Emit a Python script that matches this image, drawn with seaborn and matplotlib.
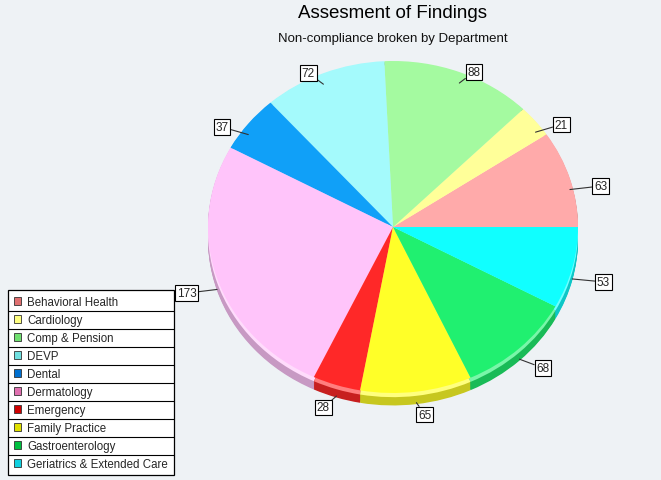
import numpy as np
import matplotlib
matplotlib.use("Agg")
import matplotlib.pyplot as plt
import matplotlib.colors as mcolors
from matplotlib.patches import Patch
from matplotlib.lines import Line2D
import seaborn as sns

# data
departments = ['Behavioral Health', 'Cardiology', 'Comp & Pension', 'DEVP', 'Dental',
               'Dermatology', 'Emergency', 'Family Practice', 'Gastroenterology',
               'Geriatrics & Extended Care']
findings = [63, 21, 88, 72, 37, 173, 28, 65, 68, 53]
slice_colors = ['#FFAAAA', '#FFFF99', '#A4FAA0', '#A4FAFC', '#10A0F8',
                '#FFC4FA', '#FF2828', '#FFFF28', '#20F070', '#10FFFF']
legend_colors = ['#E07070', '#FFFF80', '#70E070', '#70E0E0', '#0070D0',
                 '#E070B0', '#D00000', '#E0E000', '#00C040', '#10D0E0']

sns.set_theme(style="white")
plt.rcParams['font.family'] = ['Liberation Sans', 'DejaVu Sans']

W, H = 661, 481
fig = plt.figure(figsize=(W / 100, H / 100), dpi=100)
bg = '#eef2f5'
fig.patch.set_facecolor(bg)

# pie axes: ellipse centre (393, 228), radii 185 x 166 pixels
cx, cy, rx, ry = 393, 228, 185, 166
ax = fig.add_axes([(cx - rx) / W, 1 - (cy + ry) / H, 2 * rx / W, 2 * ry / H])
ax.set_facecolor('none')

depth = 0.075
n_layers = 14
side_colors = [tuple(np.clip(np.array(mcolors.to_rgb(c)) * 0.78, 0, 1)) for c in slice_colors]
for k in range(n_layers, 0, -1):
    off = -depth * k / n_layers
    ax.pie(findings, colors=side_colors, startangle=0, counterclock=True,
           center=(0, off), radius=1, wedgeprops=dict(linewidth=0))
# light bevel ring near the rim
bevel = [mcolors.to_hex(np.clip(np.array(mcolors.to_rgb(c)) * 0.6 + 0.4, 0, 1))
         for c in slice_colors]
ax.pie(findings, colors=bevel, startangle=0, center=(0, -0.025), radius=1,
       wedgeprops=dict(linewidth=0))
wedges, _ = ax.pie(findings, colors=slice_colors, startangle=0, center=(0, 0), radius=1,
                   wedgeprops=dict(linewidth=0))
ax.set_aspect('auto')
ax.set_xlim(-1, 1)
ax.set_ylim(-1, 1)
ax.axis('off')

# value labels in boxes with leader lines (offsets in pixels, converted to data units)
for w, val in zip(wedges, findings):
    ang = np.deg2rad((w.theta1 + w.theta2) / 2)
    ca, sa = np.cos(ang), np.sin(ang)
    start = (ca, sa - 11 / ry)
    dx = 27 * ca + 5 * np.sign(ca)
    dy = 12 * sa
    xt = (start[0] + dx / rx, start[1] + dy / ry)
    ax.annotate(str(val), xy=start, xytext=xt, ha='center', va='center', fontsize=8.5,
                annotation_clip=False,
                bbox=dict(boxstyle='square,pad=0.15', fc='white', ec='black', lw=0.8),
                arrowprops=dict(arrowstyle='-', color='#333333', lw=0.8,
                                shrinkA=0, shrinkB=0))

fig.text(cx / W, 1 - 13 / H, 'Assesment of Findings', ha='center', va='center',
         fontsize=13.5, color='black')
fig.text(cx / W, 1 - 39 / H, 'Non-compliance broken by Department', ha='center', va='center',
         fontsize=9.5, color='#111111')

handles = [Patch(facecolor=c, edgecolor='#333333', linewidth=0.6) for c in legend_colors]
leg = fig.legend(handles, departments, loc='upper left',
                 bbox_to_anchor=(8 / W, 1 - 291 / H), bbox_transform=fig.transFigure,
                 fontsize=8.3, frameon=True, fancybox=False, edgecolor='black',
                 facecolor='white', framealpha=1, borderpad=0.5, labelspacing=0.52,
                 handlelength=0.65, handleheight=0.65, handletextpad=0.5,
                 borderaxespad=0)
leg.get_frame().set_linewidth(0.9)

# row separators in the legend
fig.canvas.draw()
r = fig.canvas.get_renderer()
fb = leg.get_frame().get_window_extent(r)
tb = [t.get_window_extent(r) for t in leg.get_texts()]
for a, b in zip(tb[:-1], tb[1:]):
    yline = (a.y0 + b.y1) / 2 / H
    fig.add_artist(Line2D([fb.x0 / W, fb.x1 / W], [yline, yline],
                          transform=fig.transFigure, color='black', lw=0.8, zorder=10))

fig.savefig('out.png', dpi=100, facecolor=bg)
